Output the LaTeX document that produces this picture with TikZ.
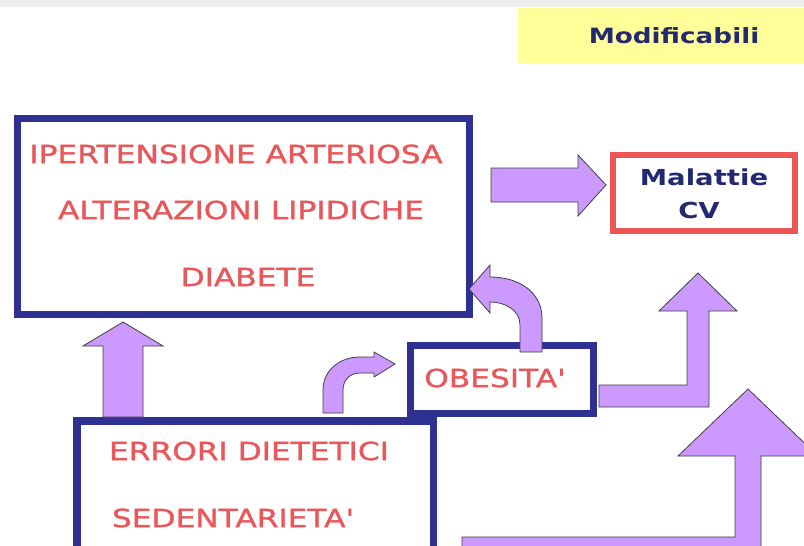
\documentclass[tikz,border=0pt]{standalone}
\usepackage{fontspec}
\usetikzlibrary{positioning}
\newfontfamily\comic[FakeStretch=1.25]{DejaVu Sans}
\newfontfamily\comicr[FakeStretch=1.25,FakeBold=1.2]{DejaVu Sans}
\definecolor{navy}{RGB}{46,49,146}
\definecolor{inkblue}{RGB}{36,40,112}
\definecolor{redtxt}{RGB}{232,87,90}
\definecolor{redbox}{RGB}{238,85,85}
\definecolor{lilac}{RGB}{204,153,255}
\definecolor{pale}{RGB}{255,255,153}
\tikzset{
box/.style={draw=navy,line width=7.5,fill=white,inner sep=0pt},
risk/.style={text=redtxt,inner sep=0pt,font=\comicr\fontsize{25}{30}\selectfont},
title/.style={text=inkblue,inner sep=0pt,font=\comic\bfseries\fontsize{22}{26}\selectfont},
blk/.style={fill=lilac,draw=black!75,line width=0.8,line join=miter}
}
\begin{document}
\begin{tikzpicture}[x=1pt,y=-1pt]
\useasboundingbox (0,0) rectangle (804,546);
\clip (0,0) rectangle (804,546);
\fill[black!7] (0,0) rectangle (804,7);

\node[fill=pale,minimum width=286,minimum height=55,inner sep=0pt] (mod) at (661,35.5) {};
\node[title,font=\comic\bfseries\fontsize{21}{25}\selectfont] (modt) at (674,36) {Modificabili};

\node[box,minimum width=452,minimum height=196]                  (big)  at (243.5,216.5) {};
\node[box,draw=redbox,line width=6,minimum width=182,minimum height=76] (mal) at (704,193) {};
\node[box,line width=7,minimum width=183,minimum height=68]      (obes) at (502,379.5) {};
\node[box,minimum width=356.5,minimum height=220]                (err)  at (255,531) {};

\node[risk] (ipa)  at (236,154) {IPERTENSIONE ARTERIOSA};
\node[risk] (lip)  at (241,210) {ALTERAZIONI LIPIDICHE};
\node[risk] (dia)  at (248,277) {DIABETE};
\node[title] (mal1) at (704,177) {Malattie};
\node[title] (mal2) at (699,210) {CV};
\node[risk] (obt)  at (495,378) {OBESITA'};
\node[risk] (die)  at (249,451) {ERRORI DIETETICI};
\node[risk] (sed)  at (233,518) {SEDENTARIETA'};

\draw[blk] (491,168) -- (578,168) -- (578,155) -- (606,185) -- (578,216) -- (578,202) -- (491,202) -- cycle;
\draw[blk] (103,417) -- (103,346) -- (83,346) -- (123,322) -- (163,346) -- (143,346) -- (143,417) -- cycle;
\draw[blk] (323,413) -- (323,390) .. controls (323,370) and (340,357) .. (360,357) -- (374,357)
  -- (374,352) -- (395,364) -- (374,377) -- (374,373) -- (360,373)
  .. controls (350,373) and (343,380) .. (343,390) -- (343,413) -- cycle;
\draw[blk] (542,352) -- (542,318) .. controls (542,293) and (520,277) .. (490,277) -- (490,265)
  -- (469,289) -- (490,313) -- (490,302) .. controls (505,302) and (520,310) .. (520,325)
  -- (520,352) -- cycle;
\draw[blk] (599,385) -- (687,385) -- (687,311) -- (659,311) -- (698,273) -- (737,311) -- (709,311)
  -- (709,407) -- (599,407) -- cycle;
\draw[blk] (462,537) -- (735,537) -- (735,456) -- (678,456) -- (748,389) -- (818,456) -- (761,456)
  -- (761,570) -- (462,570) -- cycle;
\end{tikzpicture}
\end{document}
